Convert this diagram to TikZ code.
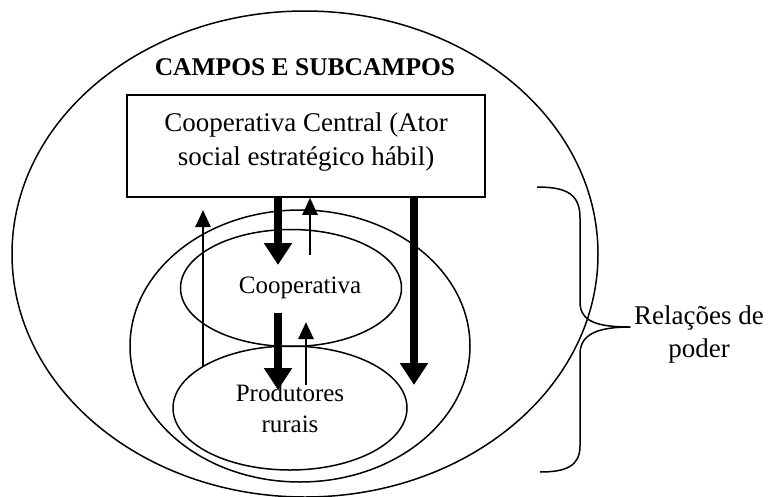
\documentclass[tikz,border=0pt]{standalone}
\usepackage{fontspec}
\setmainfont{Liberation Serif}
\usetikzlibrary{shapes.geometric,arrows.meta}

\begin{document}
\begin{tikzpicture}[x=1pt,y=-1pt,
    campo/.style={draw,ellipse,line width=1.5pt,inner sep=0pt},
    texto/.style={font=\fontsize{25}{31}\selectfont,align=center},
    forte/.style={line width=8pt,-{Triangle[width=27pt,length=22pt]}},
    fraca/.style={line width=2.6pt,-{Triangle[width=15pt,length=17pt]}}]
  \useasboundingbox (0,0) rectangle (769,496);

  \node[campo,minimum width=586,minimum height=486] (campos) at (305,254) {};
  \node[campo,minimum width=340,minimum height=272] (sub) at (300,346) {};
  \node[campo,minimum width=221,minimum height=117,texto] (coop) at (291,288) {\hspace*{18pt}Cooperativa};
  \node[campo,minimum width=234,minimum height=124,texto,text depth=0pt] (prod) at (290,408) {Produtores\\rurais};
  \node[font=\bfseries\fontsize{25.5}{28}\selectfont] (titulo) at (305,67) {CAMPOS E SUBCAMPOS};
  \node[draw,line width=1.5pt,minimum width=358,minimum height=102,texto,font=\fontsize{27}{34}\selectfont] (central) at (306,146) {Cooperativa Central (Ator\\social estratégico hábil)\\[-20pt]};
  \node[texto,font=\fontsize{27}{33}\selectfont] (poder) at (699,335) {Relações de\\poder};

  \coordinate (v0) at (203,367);
  \coordinate (v1) at (203,210);
  \coordinate (v2) at (278,265);
  \coordinate (v3) at (310,255);
  \coordinate (v4) at (414,385);
  \coordinate (v5) at (278,313);
  \coordinate (v6) at (278,390);
  \coordinate (v7) at (306,385);
  \coordinate (v8) at (306,322);

  \draw[fraca] (v0) -- (v1);
  \draw[forte] (central.south -| v2) -- (v2);
  \draw[fraca] (v3) -- (central.south -| v3);
  \draw[forte] (central.south -| v4) -- (v4);
  \draw[forte] (v5) -- (v6);
  \draw[fraca] (v7) -- (v8);

  \draw[line width=1.5pt] (537,187) .. controls (568,187) and (580,195) .. (580,218) -- (580,302)
    .. controls (580,322) and (598,327) .. (poder.west |- 0,327)
    .. controls (598,327) and (580,334) .. (580,354) -- (580,446)
    .. controls (580,466) and (566,472) .. (540,472);
\end{tikzpicture}
\end{document}
